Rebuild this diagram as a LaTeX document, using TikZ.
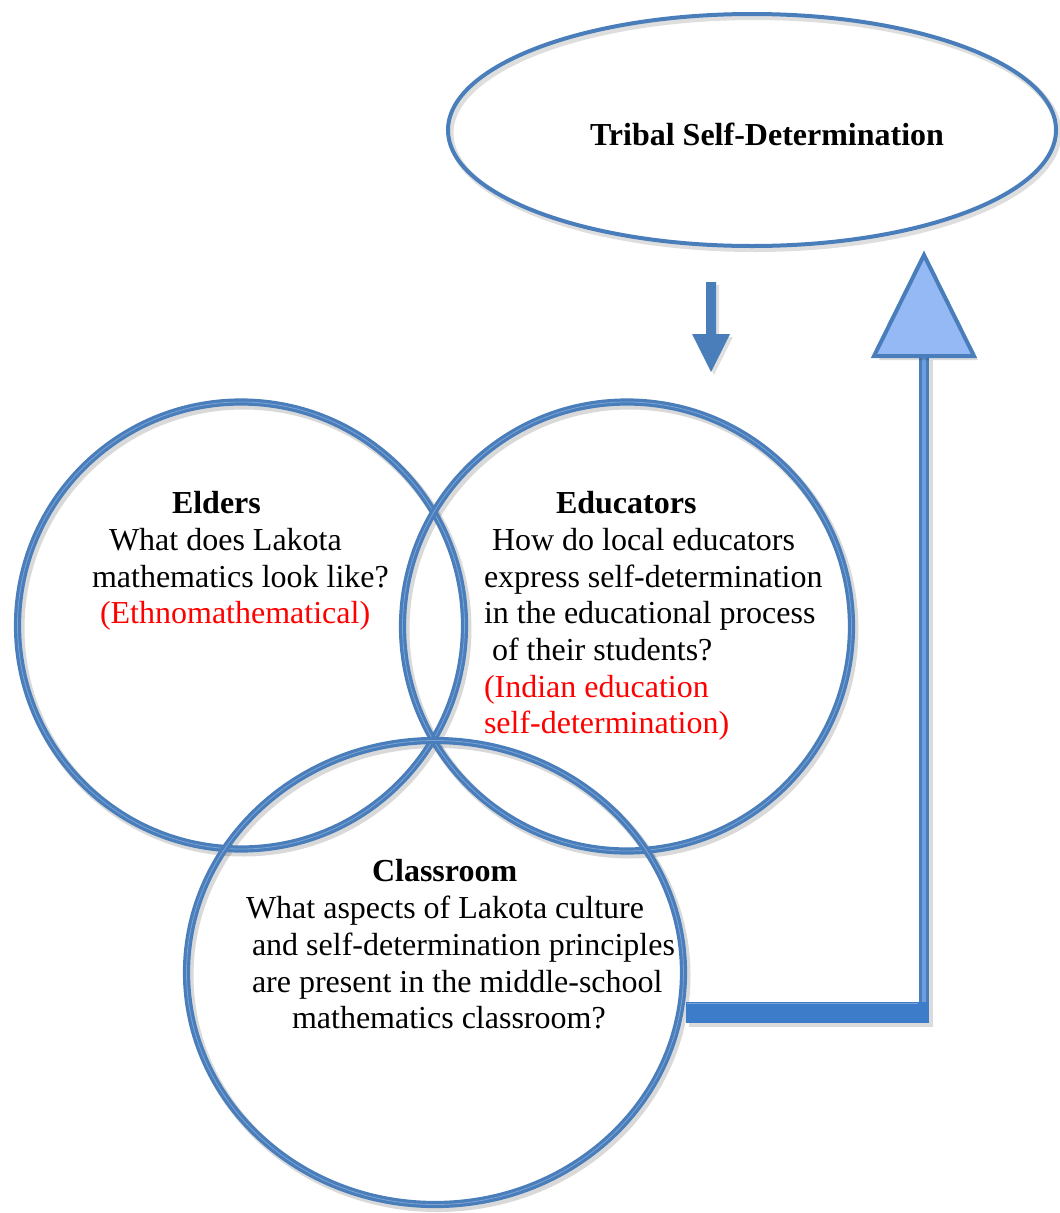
\documentclass[tikz,border=0pt]{standalone}
\usepackage{fontspec}
\setmainfont{Liberation Serif}
\usetikzlibrary{shapes.geometric}
\definecolor{ringblue}{HTML}{4A7EBB}
\definecolor{ringlight}{HTML}{7AA3D8}
\definecolor{tipfill}{HTML}{95B9F4}
\definecolor{barblue}{HTML}{3D7CC9}
\definecolor{shaftmid}{HTML}{6E9EE0}
\definecolor{qred}{HTML}{FF0000}

\begin{document}
\begin{tikzpicture}[x=1pt,y=-1pt,
  ringnode/.style={circle, draw=ringblue, double=ringlight, line width=3.2pt,
    double distance=0.8pt, inner sep=0pt, outer sep=0pt},
  ringshadow/.style={circle, draw=black, draw opacity=0.15, line width=9pt,
    inner sep=0pt, outer sep=0pt},
  ovalnode/.style={ellipse, draw=ringblue, line width=4pt, inner sep=0pt,
    outer sep=0pt},
  ovalshadow/.style={ellipse, draw=black, draw opacity=0.13, line width=6pt,
    inner sep=0pt, outer sep=0pt},
  txt/.style={inner sep=0pt, outer sep=0pt, anchor=base west,
    font=\fontsize{32}{37}\selectfont},
  head/.style={txt, font=\fontsize{32}{37}\selectfont\bfseries},
  redtxt/.style={txt, text=qred},
]
\useasboundingbox (0,0) rectangle (1060,1213);

% soft shadows under the outlines
\node[ovalshadow, minimum width=608pt, minimum height=232pt] (tsdshadow) at (754.5,133) {};
\node[ringshadow, minimum size=447pt] (eldshadow) at (243.5,628.5) {};
\node[ringshadow, minimum size=449pt] (edushadow) at (629.5,629.5) {};
\node[ringshadow, ellipse, minimum width=497pt, minimum height=464pt] (clsshadow) at (437.5,975.5) {};

% the oval and the three overlapping rings
\node[ovalnode, minimum width=608pt, minimum height=232pt] (tsd) at (752,130) {};
\node[ringnode, minimum size=447pt] (elders) at (241,625.5) {};
\node[ringnode, minimum size=449pt] (educators) at (627,626.5) {};
\node[ringnode, ellipse, minimum width=497pt, minimum height=464pt] (classroom) at (435,972.5) {};

% downward arrow from the oval
\coordinate (downtop) at (711,282);
\fill[black, opacity=0.12] (downtop) ++(-2,3) -- ++(10,0) -- ++(0,52) -- ++(14,0)
  -- (714,375) -- (695,337) -- (709,337) -- cycle;
\fill[ringblue] (downtop) ++(-5,0) -- ++(10,0) -- ++(0,52) -- ++(14,0)
  -- (711,372) -- (692,334) -- (706,334) -- cycle;

% bent arrow from the classroom ring up towards the oval
\coordinate (barstart) at (686,1012.5);
\coordinate (uptip) at (924,255);
\coordinate (upbase) at (924,356);
\fill[black, opacity=0.14] (689,1006) rectangle (933,1027);
\fill[black, opacity=0.14] (925,360) rectangle (933,1006);
\draw[draw=ringblue, double=shaftmid, line width=3pt, double distance=3.5pt]
  (upbase) -- (924,1004);
\fill[barblue] (barstart) ++(0,-10.5) rectangle (929,1023);
\draw[ringlight, line width=0.8pt] (687,1003) -- (918,1003);
\fill[black, opacity=0.14] (uptip) ++(3,4) -- (978,360) -- (879,360) -- cycle;
\draw[draw=ringblue, fill=tipfill, line width=4pt, line join=miter]
  (uptip) -- (974,356) -- (874,356) -- cycle;

% texts
\node[head] (tsdtxt) at (590,145) {Tribal Self-Determination};

\node[head] (eldhead) at (172,513) {Elders};
\node[txt] (eld1) at (109,550) {What does Lakota};
\node[txt] (eld2) at (92,587) {mathematics look like?};
\node[redtxt] (eld3) at (100,623) {(Ethnomathematical)};

\node[head] (eduhead) at (556,513) {Educators};
\node[txt] (edu1) at (492,550) {How do local educators};
\node[txt] (edu2) at (484,587) {express self-determination};
\node[txt] (edu3) at (484,623) {in the educational process};
\node[txt] (edu4) at (492,660) {of their students?};
\node[redtxt] (edu5) at (484,697) {(Indian education};
\node[redtxt] (edu6) at (484,733) {self-determination)};

\node[head] (clshead) at (372,881) {Classroom};
\node[txt] (cls1) at (246,918) {What aspects of Lakota culture};
\node[txt] (cls2) at (252,955) {and self-determination principles};
\node[txt] (cls3) at (252,992) {are present in the middle-school};
\node[txt] (cls4) at (292,1028) {mathematics classroom?};
\end{tikzpicture}
\end{document}
